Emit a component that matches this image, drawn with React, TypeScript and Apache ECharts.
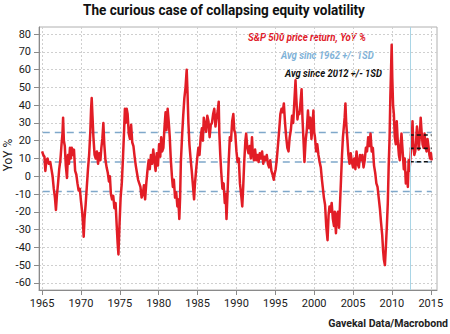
import React, { useEffect, useRef } from "react";
import * as echarts from "echarts";

// S&P 500 price return, YoY % — [year, value], by decade
const sp1960s: [number, number][] = [
  [1965.0, 14], [1965.15, 12], [1965.3, 11], [1965.42, 3], [1965.55, 9], [1965.7, 10], [1965.85, 7],
  [1966.05, 8], [1966.2, 4], [1966.35, 0], [1966.5, -7], [1966.65, -12], [1966.78, -19], [1966.9, -11],
  [1967.05, -4], [1967.2, 4], [1967.35, 9], [1967.5, 18], [1967.62, 24], [1967.7, 33], [1967.8, 20],
  [1967.92, 17], [1968.05, 6], [1968.2, -1], [1968.32, 12], [1968.45, 7], [1968.58, 16], [1968.7, 10],
  [1968.82, 16], [1968.95, 12], [1969.1, 15], [1969.25, 3], [1969.4, 1], [1969.55, -4], [1969.7, -8],
  [1969.85, -7],
];
const sp1970s: [number, number][] = [
  [1970.0, -14], [1970.15, -20], [1970.25, -26], [1970.35, -34], [1970.45, -24], [1970.6, -16],
  [1970.75, -6], [1970.9, 4], [1971.05, 12], [1971.2, 25], [1971.3, 38], [1971.38, 44], [1971.48, 34],
  [1971.6, 22], [1971.75, 12], [1971.9, 10], [1972.05, 14], [1972.2, 7], [1972.35, 13], [1972.5, 9],
  [1972.62, 16], [1972.75, 21], [1972.88, 30], [1973.0, 18], [1973.15, 9], [1973.3, 5], [1973.45, 2],
  [1973.6, -3], [1973.72, 0], [1973.85, -10], [1974.0, -13], [1974.15, -11], [1974.3, -18], [1974.45, -15],
  [1974.6, -28], [1974.72, -38], [1974.82, -44], [1974.95, -28], [1975.1, -12], [1975.25, -4], [1975.4, 10],
  [1975.55, 26], [1975.65, 38], [1975.75, 30], [1975.88, 38], [1976.0, 35], [1976.15, 24], [1976.3, 21],
  [1976.45, 29], [1976.6, 19], [1976.75, 17], [1976.9, 11], [1977.05, 6], [1977.2, 2], [1977.35, -2],
  [1977.5, -4], [1977.65, -6], [1977.8, -12], [1977.95, -10], [1978.1, -5], [1978.25, -13], [1978.4, -4],
  [1978.55, 3], [1978.7, 9], [1978.85, 4], [1979.0, 12], [1979.15, 7], [1979.3, 15], [1979.45, 9],
  [1979.6, 3], [1979.75, 13], [1979.9, 6],
];
const sp1980s: [number, number][] = [
  [1980.05, 18], [1980.2, 11], [1980.32, 22], [1980.45, 14], [1980.6, 16], [1980.75, 28], [1980.88, 36],
  [1981.0, 26], [1981.15, 38], [1981.3, 30], [1981.42, 22], [1981.55, 10], [1981.7, 0], [1981.82, -6],
  [1981.95, -2], [1982.1, -12], [1982.25, -9], [1982.4, -17], [1982.52, -13], [1982.65, -24], [1982.75, -12],
  [1982.85, 8], [1983.0, 22], [1983.15, 34], [1983.3, 44], [1983.45, 50], [1983.6, 60], [1983.7, 48],
  [1983.82, 30], [1983.95, 18], [1984.1, 10], [1984.25, 3], [1984.4, -5], [1984.55, -13], [1984.65, -5],
  [1984.8, 3], [1984.95, 10], [1985.1, 16], [1985.25, 12], [1985.4, 22], [1985.55, 27], [1985.68, 20],
  [1985.8, 33], [1985.95, 29], [1986.1, 25], [1986.25, 34], [1986.4, 31], [1986.55, 22], [1986.7, 29],
  [1986.85, 30], [1987.0, 35], [1987.15, 38], [1987.3, 28], [1987.45, 33], [1987.6, 37], [1987.72, 42],
  [1987.8, 24], [1987.92, 12], [1988.05, 2], [1988.2, -7], [1988.35, -4], [1988.5, -15], [1988.62, -10],
  [1988.72, -24], [1988.85, -10], [1989.0, 8], [1989.15, 22], [1989.3, 20], [1989.45, 31], [1989.6, 35],
  [1989.72, 26], [1989.85, 24],
];
const sp1990s: [number, number][] = [
  [1990.0, 14], [1990.15, 8], [1990.3, 10], [1990.45, -4], [1990.6, -10], [1990.75, -17], [1990.87, -6],
  [1991.0, 8], [1991.15, 20], [1991.25, 24], [1991.4, 16], [1991.55, 13], [1991.7, 17], [1991.85, 10],
  [1992.0, 22], [1992.1, 13], [1992.25, 9], [1992.4, 15], [1992.55, 9], [1992.7, 12], [1992.85, 8],
  [1993.0, 13], [1993.15, 10], [1993.3, 14], [1993.45, 7], [1993.6, 11], [1993.75, 9], [1993.9, 12],
  [1994.05, 7], [1994.2, 5], [1994.35, 9], [1994.5, 3], [1994.65, 1], [1994.8, -2], [1994.9, 1],
  [1995.05, 4], [1995.2, 10], [1995.35, 18], [1995.5, 26], [1995.65, 35], [1995.8, 38], [1995.95, 36],
  [1996.1, 41], [1996.25, 30], [1996.4, 22], [1996.55, 16], [1996.7, 14], [1996.85, 22], [1997.0, 26],
  [1997.15, 34], [1997.3, 30], [1997.45, 42], [1997.6, 54], [1997.7, 44], [1997.85, 32], [1997.95, 36],
  [1998.1, 35], [1998.25, 42], [1998.38, 49], [1998.5, 32], [1998.65, 18], [1998.75, 8], [1998.9, 20],
  [1999.05, 26], [1999.2, 37], [1999.35, 27], [1999.5, 33], [1999.65, 21], [1999.8, 30], [1999.9, 37],
];
const sp2000s: [number, number][] = [
  [2000.0, 25], [2000.1, 22], [2000.25, 14], [2000.4, 18], [2000.55, 12], [2000.7, 8], [2000.85, 5],
  [2001.0, -2], [2001.1, -6], [2001.25, -12], [2001.4, -16], [2001.55, -28], [2001.72, -36], [2001.85, -22],
  [2001.97, -17], [2002.1, -20], [2002.25, -15], [2002.4, -24], [2002.55, -28], [2002.65, -20], [2002.8, -32],
  [2002.92, -22], [2003.05, -20], [2003.2, -29], [2003.32, -16], [2003.45, -2], [2003.58, 12], [2003.7, 22],
  [2003.82, 28], [2003.92, 33], [2004.02, 41], [2004.12, 30], [2004.25, 22], [2004.4, 12], [2004.55, 7],
  [2004.7, 13], [2004.85, 8], [2005.0, 5], [2005.15, 10], [2005.3, 4], [2005.45, 14], [2005.6, 7],
  [2005.75, 5], [2005.9, 12], [2006.05, 9], [2006.2, 12], [2006.35, 5], [2006.5, 9], [2006.65, 16],
  [2006.8, 14], [2006.95, 22], [2007.1, 17], [2007.25, 24], [2007.4, 14], [2007.55, 16], [2007.7, 6],
  [2007.85, 2], [2008.0, -4], [2008.15, -6], [2008.3, -12], [2008.45, -18], [2008.6, -26], [2008.75, -33],
  [2008.87, -42], [2008.97, -47], [2009.1, -50], [2009.22, -40], [2009.35, -28], [2009.47, -15],
  [2009.58, 5], [2009.7, 22], [2009.8, 45], [2009.9, 62], [2009.97, 74],
];
const sp2010s: [number, number][] = [
  [2010.05, 55], [2010.15, 40], [2010.25, 35], [2010.37, 22], [2010.5, 18], [2010.62, 31], [2010.75, 20],
  [2010.9, 12], [2011.02, 9], [2011.12, 18], [2011.23, 24], [2011.38, 14], [2011.53, 4], [2011.65, 10],
  [2011.79, -4], [2011.92, 2], [2012.05, -6], [2012.15, 9], [2012.25, 3], [2012.35, 8], [2012.45, 15],
  [2012.55, 20], [2012.65, 31], [2012.75, 18], [2012.88, 12], [2013.0, 14], [2013.1, 19], [2013.22, 28],
  [2013.35, 22], [2013.45, 15], [2013.58, 22], [2013.7, 33], [2013.82, 25], [2013.95, 18], [2014.08, 16],
  [2014.2, 24], [2014.32, 18], [2014.45, 14], [2014.58, 21], [2014.7, 17], [2014.82, 12], [2014.92, 10],
  [2015.02, 13], [2015.12, 9],
];

const xTicks = [1965, 1970, 1975, 1980, 1985, 1990, 1995, 2000, 2005, 2010, 2015];
const yTicks = [-60, -50, -40, -30, -20, -10, 0, 10, 20, 30, 40, 50, 60, 70, 80];

// Avg since 1962 +/- 1SD  (upper, mean, lower)
const bands1962 = [24.7, 8.1, -8.5];
// Avg since 2012 +/- 1SD  (upper, mean, lower)
const bands2012 = [23.2, 15.7, 8.2];
const start1962 = 1962;
const start2012 = 2012.3;
const bandsEnd = 2015.1;

const TITLE = "The curious case of collapsing equity volatility";
const LEG1 = "S&P 500 price return, YoY %";
const LEG2 = "Avg sinc 1962 +/- 1SD";
const LEG3 = "Avg since 2012 +/- 1SD";
const SOURCE = "Gavekal Data/Macrobond";

const FONT = "Roboto";

function fitScale(text: string, font: string, target: number): number {
  const ctx = document.createElement("canvas").getContext("2d");
  if (!ctx) return 1;
  ctx.font = font;
  const w = ctx.measureText(text).width;
  return w > 0 ? target / w : 1;
}

function txt(
  text: string,
  x: number,
  y: number,
  opts: { size: number; weight?: string; style?: string; color: string; align: string; width?: number; rotation?: number }
) {
  const weight = opts.weight || "normal";
  const fstyle = opts.style || "normal";
  const sx = opts.width
    ? fitScale(text, `${fstyle} ${weight} ${opts.size}px ${FONT}`, opts.width)
    : 1;
  return {
    type: "text",
    x,
    y,
    scaleX: sx,
    rotation: opts.rotation || 0,
    silent: true,
    style: {
      text,
      fill: opts.color,
      fontSize: opts.size,
      fontWeight: weight,
      fontStyle: fstyle,
      fontFamily: FONT,
      align: opts.align,
      textAlign: opts.align,
      verticalAlign: "middle",
      textVerticalAlign: "middle",
    },
  };
}

export default function App() {
  const ref = useRef<HTMLDivElement>(null);

  useEffect(() => {
    if (!ref.current) return;
    const chart = echarts.init(ref.current, undefined, { renderer: "svg" });
    const spData = [...sp1960s, ...sp1970s, ...sp1980s, ...sp1990s, ...sp2000s, ...sp2010s];

    const axisLabelStyle = {
      fontSize: 11,
      color: "#1a1a1a",
      fontFamily: "'Liberation Sans Narrow', Roboto, sans-serif",
    };

    const blueSeries = bands1962.map((v) => ({
      type: "line",
      data: [[start1962, v], [bandsEnd, v]],
      showSymbol: false,
      symbol: "none",
      silent: true,
      z: 2,
      lineStyle: { color: "#7fa8ca", width: 1.5, type: [7, 5] },
    }));
    const blackSeries = bands2012.map((v) => ({
      type: "line",
      data: [[start2012, v], [bandsEnd, v]],
      showSymbol: false,
      symbol: "none",
      silent: true,
      z: 4,
      lineStyle: { color: "#111", width: 1.6, type: [4, 3] },
    }));

    chart.setOption({
      animation: false,
      backgroundColor: "#fff",
      grid: {
        left: 39,
        right: 13,
        top: 27,
        bottom: 44,
        show: true,
        borderColor: "#b0b0b0",
        borderWidth: 1,
        containLabel: false,
        outerBoundsMode: "none",
      },
      xAxis: {
        type: "value",
        min: 1964.6,
        max: 2015.8,
        axisLine: { show: true, onZero: false, lineStyle: { color: "#8a8a8a", width: 1 } },
        axisTick: { show: true, customValues: xTicks, length: 5, lineStyle: { color: "#8a8a8a" } },
        axisLabel: {
          ...axisLabelStyle,
          customValues: xTicks,
          margin: 8,
          formatter: (v: number) => String(Math.round(v)),
        },
        splitLine: { show: true, lineStyle: { color: "#cfcfcf", width: 1, type: [2, 2] } },
      },
      yAxis: {
        type: "value",
        min: -64,
        max: 84,
        axisLine: { show: true, onZero: false, lineStyle: { color: "#8a8a8a", width: 1 } },
        axisTick: { show: true, customValues: yTicks, length: 5, lineStyle: { color: "#8a8a8a" } },
        axisLabel: {
          ...axisLabelStyle,
          customValues: yTicks,
          margin: 8,
          formatter: (v: number) => String(Math.round(v)),
        },
        splitLine: { show: true, lineStyle: { color: "#cfcfcf", width: 1, type: [2, 2] } },
      },
      series: [
        ...blueSeries,
        {
          type: "line",
          name: LEG1,
          data: spData,
          showSymbol: false,
          symbol: "none",
          z: 3,
          lineStyle: { color: "#e21d26", width: 2.5, join: "round" },
          markLine: {
            silent: true,
            symbol: "none",
            label: { show: false },
            lineStyle: { color: "#a9d5e6", width: 1, type: "solid" },
            data: [{ xAxis: start2012 }],
          },
        },
        ...blackSeries,
      ],
      graphic: [
        txt(TITLE, 224, 10, { size: 15, weight: "bold", color: "#111", align: "center", width: 282 }),
        txt(LEG1, 248, 37, { size: 11, weight: "bold", style: "italic", color: "#e0202a", align: "left", width: 118 }),
        txt(LEG2, 281, 55, { size: 11, weight: "bold", style: "italic", color: "#80b2d8", align: "left", width: 93 }),
        txt(LEG3, 285, 73, { size: 11, weight: "bold", style: "italic", color: "#111", align: "left", width: 97 }),
        txt("YoY %", 8, 155, { size: 12, color: "#222", align: "center", rotation: Math.PI / 2 }),
        txt(SOURCE, 448, 323, { size: 11, weight: "bold", color: "#222", align: "right", width: 120 }),
      ],
    });

    return () => chart.dispose();
  }, []);

  return (
    <div
      ref={ref}
      style={{ position: "fixed", left: 0, top: 0, width: 450, height: 334, background: "#fff" }}
    />
  );
}
